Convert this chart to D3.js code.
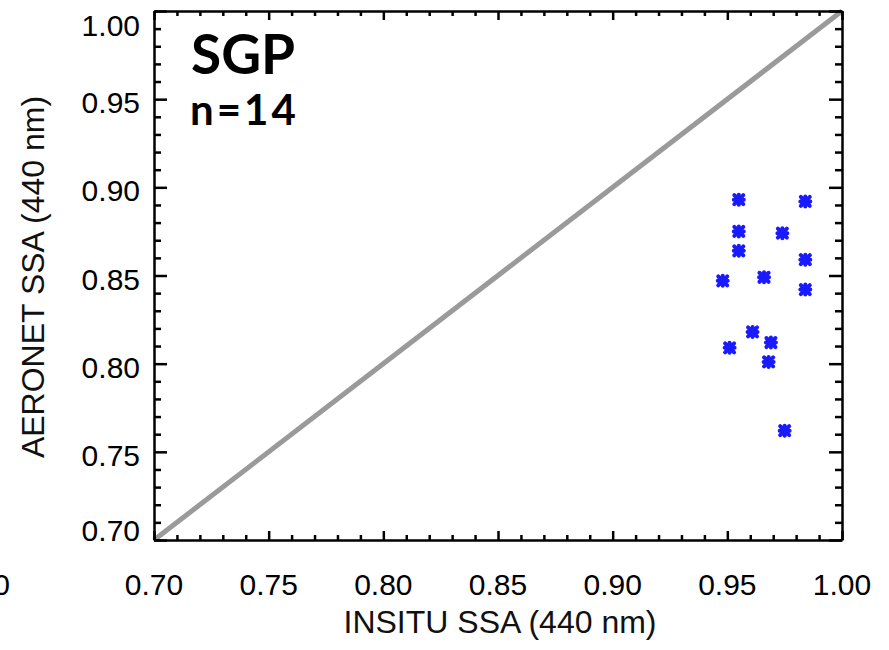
<!DOCTYPE html>
<html>
<head>
<meta charset="utf-8">
<script src="https://cdn.jsdelivr.net/npm/d3@7"></script>
<style>
  body { margin: 0; background: #fff; }
  text { font-family: "Liberation Sans", Arial, sans-serif; }
</style>
</head>
<body>
<div id="chart"></div>
<script>
// in-situ SSA (x) and AERONET SSA (y) at 440 nm, SGP site
var insitu  = [0.955, 0.984, 0.955, 0.974, 0.955, 0.984, 0.948, 0.966, 0.984, 0.961, 0.951, 0.969, 0.968, 0.975];
var aeronet = [0.893, 0.892, 0.875, 0.874, 0.864, 0.859, 0.847, 0.849, 0.842, 0.818, 0.809, 0.812, 0.801, 0.762];
var tickVals = [0.70, 0.75, 0.80, 0.85, 0.90, 0.95, 1.00];
var siteName = "SGP";
var countLabel = "n=14";

var W = 889, H = 650;
var margin = {top: 11, right: 47, bottom: 110, left: 154},
    width = W - margin.left - margin.right,
    height = H - margin.top - margin.bottom;

var x = d3.scaleLinear().domain([0.70, 1.00]).range([0, width]);
var y = d3.scaleLinear().domain([0.70, 1.00]).range([height, 0]);

var svg = d3.select("#chart").append("svg")
    .attr("width", W)
    .attr("height", H);

var g = svg.append("g")
    .attr("transform", "translate(" + margin.left + "," + margin.top + ")");

// one-to-one line
g.append("line")
    .attr("x1", x(0.70)).attr("y1", y(0.70))
    .attr("x2", x(1.00)).attr("y2", y(1.00))
    .style("stroke", "#9a9a9a")
    .style("stroke-width", 5);

var fmt = d3.format(".2f");
// minor ticks every 0.01, majors every 0.05, all pointing inward
var minor = d3.range(0, 31).map(function(i) { return 0.70 + i * 0.01; });
function isMajor(d) { return Math.round(d * 100) % 5 === 0; }

// bottom
var xb = g.append("g").attr("transform", "translate(0," + height + ")");
xb.call(d3.axisBottom(x).tickValues(minor).tickSizeInner(-5).tickSizeOuter(0).tickFormat(""));
xb.selectAll(".tick line").filter(isMajor).attr("y2", -9);
// top
var xt = g.append("g");
xt.call(d3.axisTop(x).tickValues(minor).tickSizeInner(-5).tickSizeOuter(0).tickFormat(""));
xt.selectAll(".tick line").filter(isMajor).attr("y2", 9);
// left
var yl = g.append("g");
yl.call(d3.axisLeft(y).tickValues(minor).tickSizeInner(-7).tickSizeOuter(0).tickFormat(""));
yl.selectAll(".tick line").filter(isMajor).attr("x2", 13);
// right
var yr = g.append("g").attr("transform", "translate(" + width + ",0)");
yr.call(d3.axisRight(y).tickValues(minor).tickSizeInner(-7).tickSizeOuter(0).tickFormat(""));
yr.selectAll(".tick line").filter(isMajor).attr("x2", -13);

g.selectAll(".domain").style("stroke", "#000").style("stroke-width", 2.5);
g.selectAll(".tick line").style("stroke", "#000").style("stroke-width", 2.5);

// tick labels
g.append("g").selectAll("text")
    .data(tickVals)
  .enter().append("text")
    .attr("x", function(d) { return x(d); })
    .attr("y", height + 55)
    .attr("text-anchor", "middle")
    .style("font-size", "30px")
    .text(fmt);

// y labels are kept inside the frame height
g.append("g").selectAll("text")
    .data(tickVals)
  .enter().append("text")
    .attr("x", -14)
    .attr("y", function(d) { return Math.max(14, Math.min(height - 10, y(d) + 3)) + 11; })
    .attr("text-anchor", "end")
    .style("font-size", "30px")
    .text(fmt);

// label left over from the neighbouring panel
svg.append("text")
    .attr("x", 10).attr("y", height + margin.top + 55)
    .attr("text-anchor", "end")
    .style("font-size", "30px")
    .text("1.00");

// axis titles
svg.append("text")
    .attr("x", 500)
    .attr("y", 633)
    .attr("text-anchor", "middle")
    .style("font-size", "32px")
    .style("fill", "#111")
    .text("INSITU SSA (440 nm)");

svg.append("text")
    .attr("transform", "translate(44,277) rotate(-90)")
    .attr("text-anchor", "middle")
    .style("font-size", "32px")
    .style("fill", "#111")
    .text("AERONET SSA (440 nm)");

// site label
g.append("text")
    .attr("x", 37).attr("y", 63)
    .style("font-family", "Lato, 'Open Sans', sans-serif")
    .style("font-weight", "bold")
    .style("font-size", "55px")
    .text(siteName);
g.append("text")
    .attr("x", 36).attr("y", 114)
    .style("font-family", "Lato, 'Open Sans', sans-serif")
    .style("font-weight", "bold")
    .style("font-size", "42px")
    .style("letter-spacing", "3px")
    .text(countLabel);

// asterisk markers
var dots = insitu.map(function(v, i) { return {x: v, y: aeronet[i]}; });
var star = "M-4.5,-4.5L4.5,4.5M-4.5,4.5L4.5,-4.5M0,-5L0,5M-5,0L5,0";
g.append("g").selectAll("path")
    .data(dots)
  .enter().append("path")
    .attr("transform", function(d) { return "translate(" + x(d.x) + "," + y(d.y) + ")"; })
    .attr("d", star)
    .style("fill", "none")
    .style("stroke", "#1a1aff")
    .style("stroke-width", 4)
    .style("stroke-linecap", "round");
</script>
</body>
</html>
